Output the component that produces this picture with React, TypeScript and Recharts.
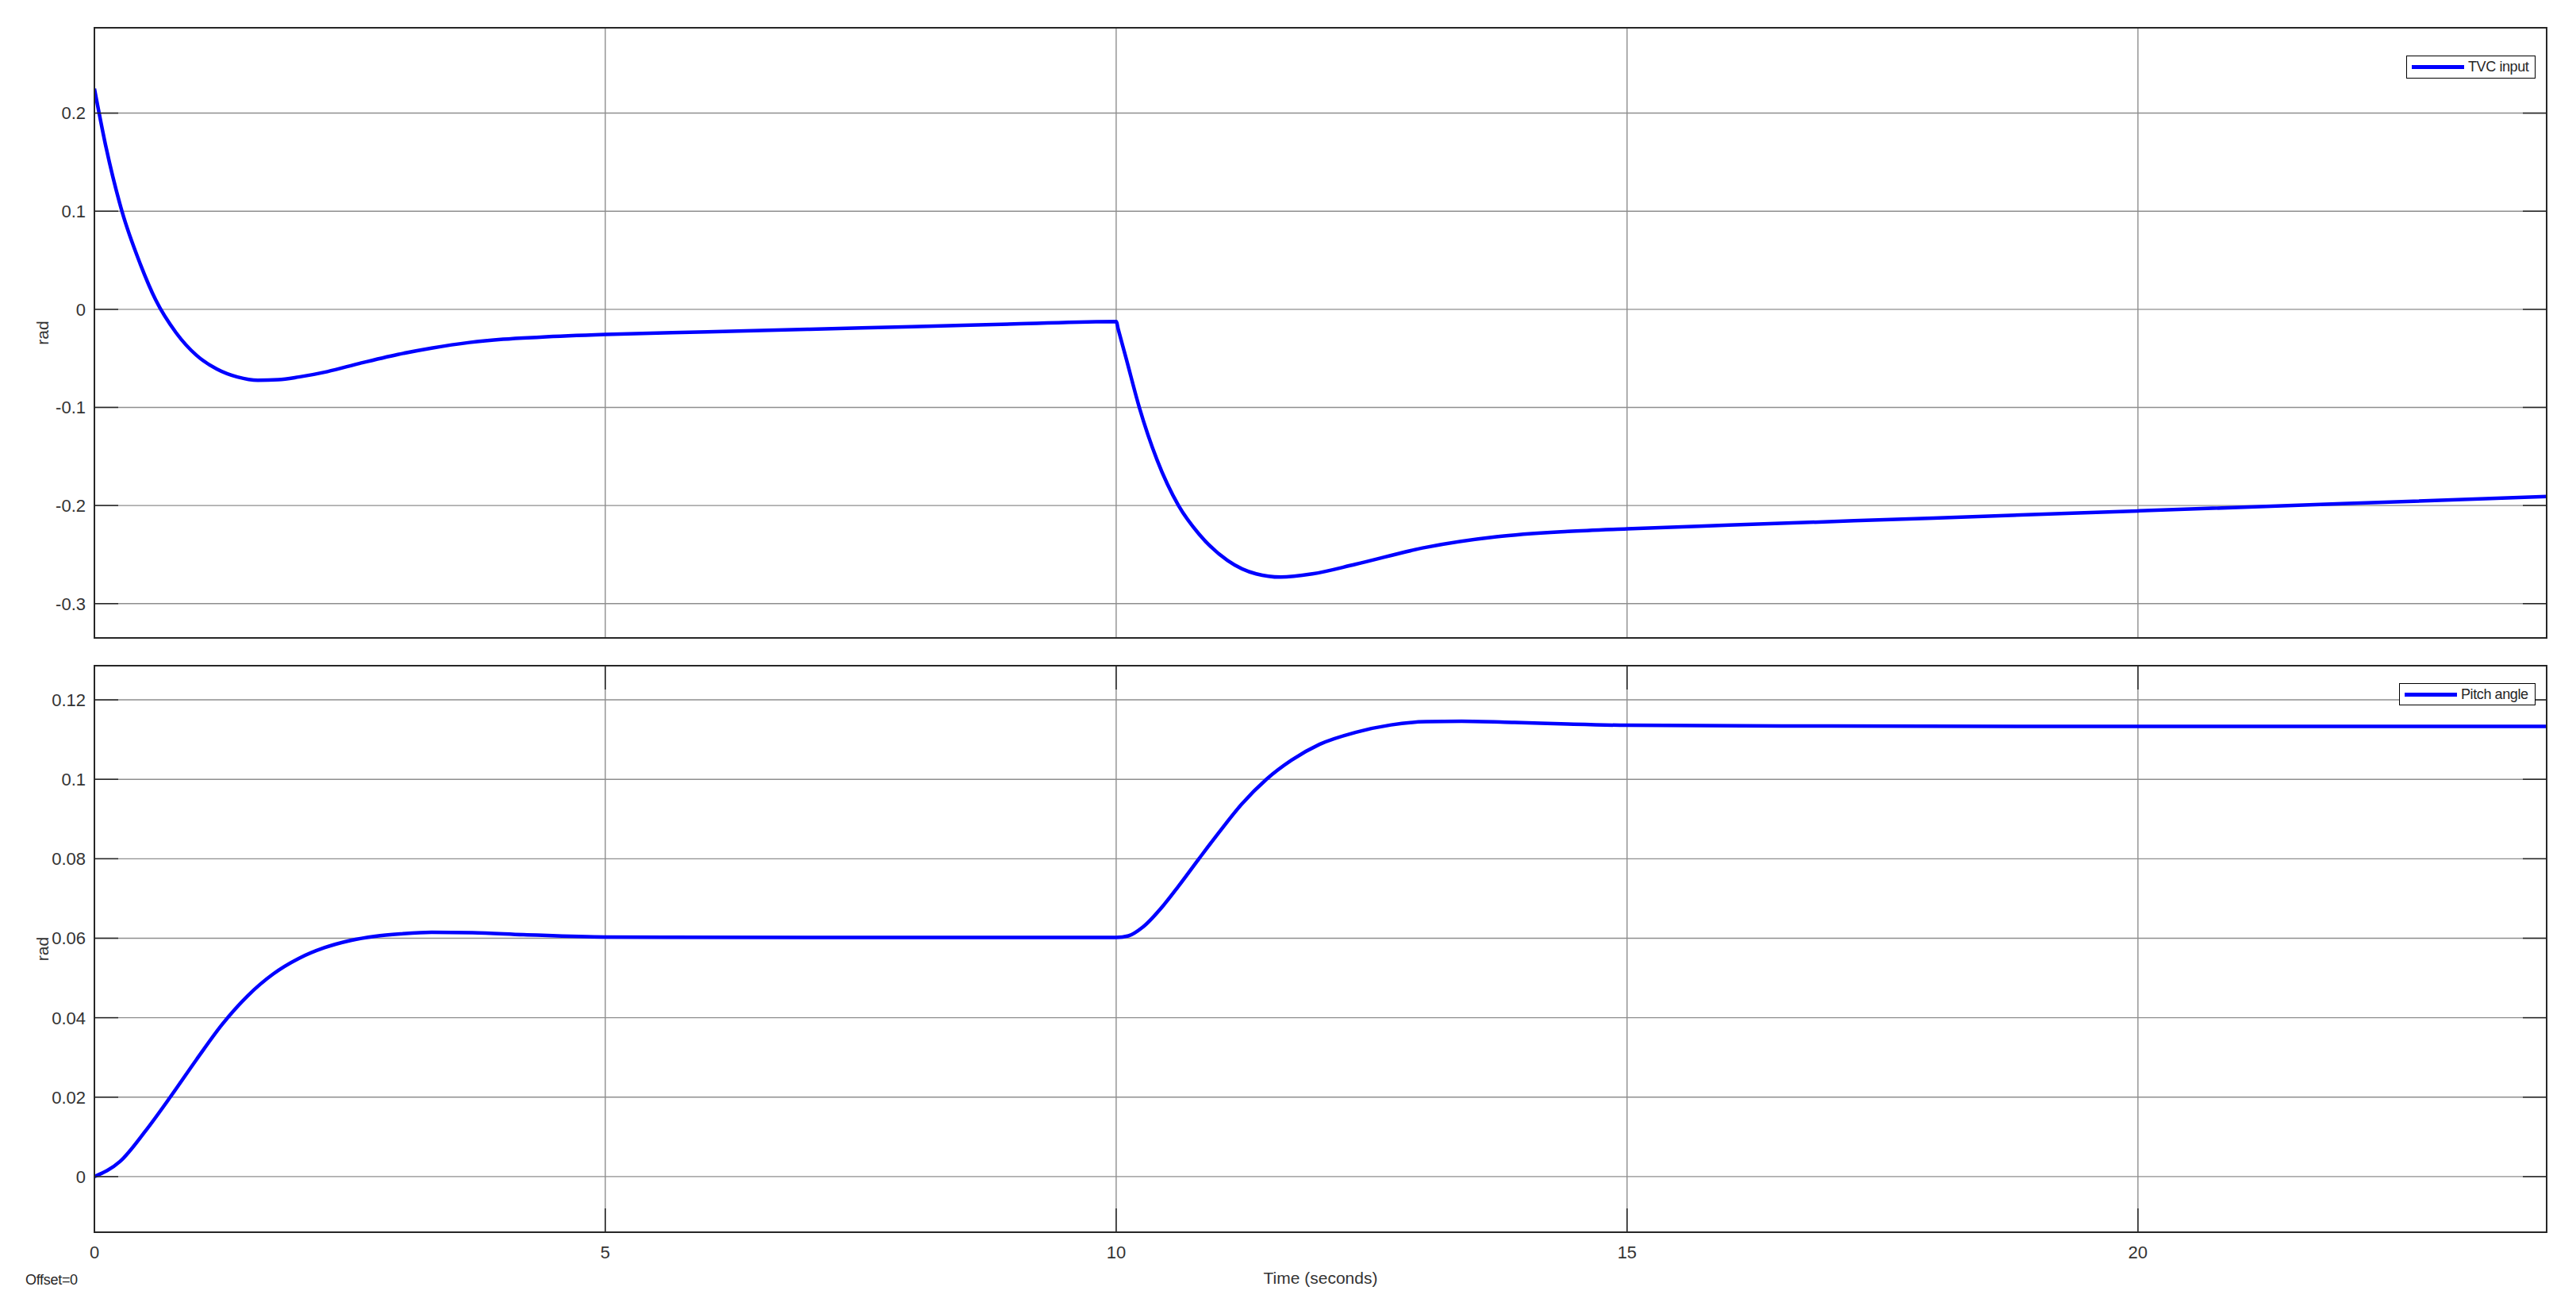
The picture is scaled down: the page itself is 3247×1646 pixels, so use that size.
import React from 'react';
import { LineChart, Line, XAxis, YAxis, CartesianGrid } from 'recharts';

// TVC input (rad) vs time (s)
const tvcTime = [
  0, 0.115, 0.27, 0.45, 0.6, 0.8, 1.0, 1.2, 1.4, 1.6, 1.8, 2.0, 2.28, 2.6, 2.97, 3.3, 3.67, 4.0, 4.36, 5,
  6, 7, 8, 9, 10, 10.02, 10.1, 10.225, 10.4, 10.61, 10.81, 11.09, 11.37, 11.61, 11.92, 12.34, 13.03, 13.72, 14.42,
  15, 16, 18, 20, 22, 24,
];
const tvcValue = [
  0.225, 0.1646, 0.0998, 0.0459, 0.0095, -0.024, -0.047, -0.061, -0.069, -0.0724, -0.0718, -0.069, -0.0635,
  -0.055, -0.046, -0.0395, -0.0338, -0.0305, -0.0284, -0.0257, -0.023, -0.0203, -0.0177, -0.015, -0.0124, -0.0202,
  -0.051, -0.0995, -0.1535, -0.2, -0.229, -0.256, -0.2697, -0.273, -0.2697, -0.26, -0.2427, -0.2319, -0.2265,
  -0.2238, -0.22, -0.2128, -0.2055, -0.1982, -0.1908,
];

// Pitch angle (rad) vs time (s)
const pitchTime = [
  0, 0.25, 0.5, 0.75, 1.0, 1.25, 1.5, 1.75, 2.0, 2.25, 2.5, 2.75, 3.0, 3.3, 3.7, 4.2, 5, 7, 10,
  10.12, 10.26, 10.47, 10.61, 10.81, 11.02, 11.23, 11.47, 11.715, 11.99, 12.34, 12.69, 13.03, 13.38, 13.9, 14.42,
  15, 17, 20, 24,
];
const pitchValue = [
  0, 0.0038, 0.0115, 0.0203, 0.0295, 0.0383, 0.0455, 0.051, 0.0549, 0.0576, 0.0594, 0.0605, 0.0611, 0.0615, 0.0614,
  0.0609, 0.0603, 0.0602, 0.0602, 0.0606, 0.0628, 0.0685, 0.0731, 0.08, 0.0871, 0.0938, 0.1, 0.1048, 0.1088,
  0.1118, 0.1137, 0.1145, 0.1146, 0.1143, 0.1139, 0.1136, 0.1134, 0.1133, 0.1133,
];

const xTicks = [0, 5, 10, 15, 20];
const tvcTicks = [-0.3, -0.2, -0.1, 0, 0.1, 0.2];
const pitchTicks = [0, 0.02, 0.04, 0.06, 0.08, 0.1, 0.12];

const tvcData = tvcTime.map((t, i) => ({ t, v: tvcValue[i] }));
const pitchData = pitchTime.map((t, i) => ({ t, v: pitchValue[i] }));

const W = 3247;
const PLOT_L = 119;
const PLOT_R = 3210;
const TICK = 30;
const FONT = '"Liberation Sans", Arial, Helvetica, sans-serif';
const INK = '#262626';
const TEXT = '#333333';

type PanelProps = {
  data: { t: number; v: number }[];
  yTicks: number[];
  yDomain: [number, number];
  top: number;
  height: number;
  plotTop: number;
  plotBottom: number;
  xAxisHeight: number;
  showXLabels: boolean;
  legend: string;
  legendBox: { left: number; top: number; width: number; height: number };
};

function Panel(p: PanelProps) {
  const relTop = p.plotTop - p.top;
  const relBottom = p.plotBottom - p.top;

  const yTick = (props: any) => {
    const { y, payload } = props;
    return (
      <g>
        <line x1={PLOT_L} x2={PLOT_L + TICK} y1={y} y2={y} stroke={INK} strokeWidth={1.5} />
        <line x1={PLOT_R - TICK} x2={PLOT_R} y1={y} y2={y} stroke={INK} strokeWidth={1.5} />
        <text x={PLOT_L - 11} y={y} dy="0.36em" textAnchor="end" fontSize={22} fill={TEXT} fontFamily={FONT}>
          {String(payload.value)}
        </text>
      </g>
    );
  };

  const xTick = (props: any) => {
    const { x, payload } = props;
    return (
      <g>
        <line x1={x} x2={x} y1={relBottom} y2={relBottom - TICK} stroke={INK} strokeWidth={1.5} />
        <line x1={x} x2={x} y1={relTop} y2={relTop + TICK} stroke={INK} strokeWidth={1.5} />
        {p.showXLabels && (
          <text x={x} y={relBottom + 25} dy="0.36em" textAnchor="middle" fontSize={22} fill={TEXT} fontFamily={FONT}>
            {String(payload.value)}
          </text>
        )}
      </g>
    );
  };

  const centerY = (relTop + relBottom) / 2;

  return (
    <div style={{ position: 'absolute', left: 0, top: p.top, width: W, height: p.height }}>
      <LineChart
        width={W}
        height={p.height}
        data={p.data}
        margin={{ top: relTop, right: W - PLOT_R, left: 19, bottom: p.height - relBottom - p.xAxisHeight }}
      >
        <CartesianGrid stroke="#8e8e8e" strokeWidth={1.4} />
        <XAxis
          dataKey="t"
          type="number"
          domain={[0, 24]}
          ticks={xTicks}
          allowDataOverflow
          height={p.xAxisHeight}
          axisLine={false}
          tickLine={false}
          tick={xTick}
          label={
            p.showXLabels
              ? { value: 'Time (seconds)', position: 'insideBottom', offset: 5, fill: TEXT, fontSize: 21, fontFamily: FONT }
              : undefined
          }
        />
        <YAxis
          type="number"
          domain={p.yDomain}
          ticks={p.yTicks}
          allowDataOverflow
          width={100}
          axisLine={false}
          tickLine={false}
          tickSize={0}
          tickMargin={11}
          tick={yTick}
          label={{
            content: () => (
              <text
                x={53}
                y={centerY}
                textAnchor="middle"
                dominantBaseline="central"
                transform={`rotate(-90 53 ${centerY})`}
                fontSize={21}
                fill={TEXT}
                fontFamily={FONT}
              >
                rad
              </text>
            ),
          }}
        />
        <Line
          type="monotone"
          dataKey="v"
          stroke="#0000ff"
          strokeWidth={4.5}
          dot={false}
          isAnimationActive={false}
          name={p.legend}
        />
      </LineChart>
      <div
        style={{
          position: 'absolute',
          left: PLOT_L - 1,
          top: relTop - 1,
          width: PLOT_R - PLOT_L + 2,
          height: relBottom - relTop + 2,
          border: `2px solid ${INK}`,
          boxSizing: 'border-box',
          pointerEvents: 'none',
        }}
      />
      <div
        style={{
          position: 'absolute',
          left: p.legendBox.left,
          top: p.legendBox.top - p.top,
          width: p.legendBox.width,
          height: p.legendBox.height,
          border: '1.5px solid #000',
          background: '#fff',
          boxSizing: 'border-box',
          display: 'flex',
          alignItems: 'center',
          fontFamily: FONT,
          fontSize: 18,
          color: INK,
          whiteSpace: 'nowrap',
        }}
      >
        <div style={{ width: 66, height: 5, background: '#0000ff', marginLeft: 6, marginRight: 5 }} />
        <span style={{ letterSpacing: -0.4 }}>{p.legend}</span>
      </div>
    </div>
  );
}

export default function App() {
  return (
    <div style={{ position: 'absolute', left: 0, top: 0, width: W, height: 1646, background: '#fff', overflow: 'hidden' }}>
      <Panel
        data={tvcData}
        yTicks={tvcTicks}
        yDomain={[-0.335, 0.287]}
        top={0}
        height={820}
        plotTop={35}
        plotBottom={804}
        xAxisHeight={0}
        showXLabels={false}
        legend="TVC input"
        legendBox={{ left: 3033, top: 70, width: 163, height: 29 }}
      />
      <Panel
        data={pitchData}
        yTicks={pitchTicks}
        yDomain={[-0.014, 0.1286]}
        top={820}
        height={826}
        plotTop={839}
        plotBottom={1553}
        xAxisHeight={70}
        showXLabels={true}
        legend="Pitch angle"
        legendBox={{ left: 3024, top: 861, width: 172, height: 28 }}
      />
      <div
        style={{
          position: 'absolute',
          left: 32,
          top: 1603,
          fontFamily: FONT,
          fontSize: 18,
          color: INK,
          letterSpacing: -0.3,
        }}
      >
        Offset=0
      </div>
    </div>
  );
}
